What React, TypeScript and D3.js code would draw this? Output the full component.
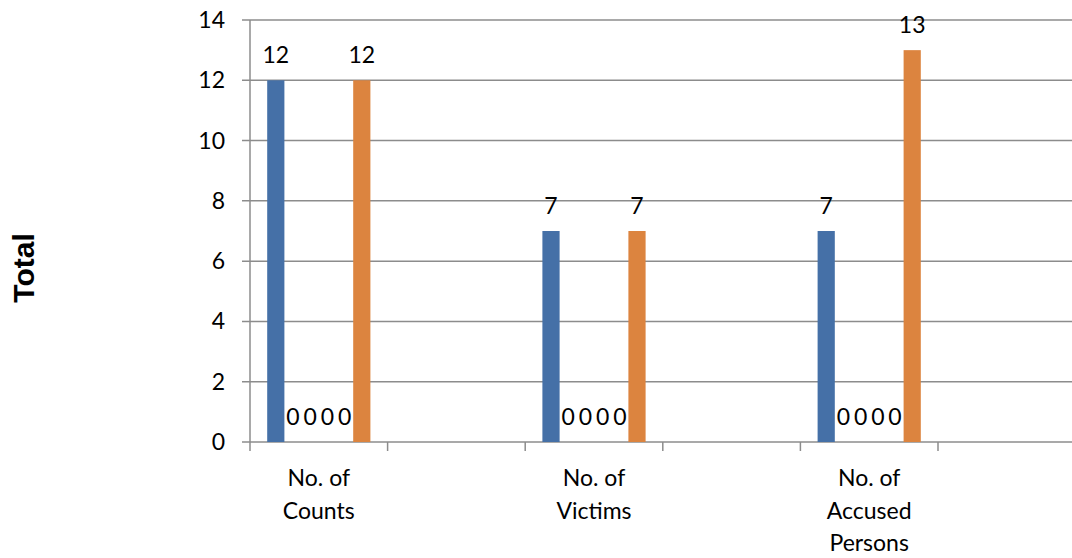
import React from "react";
import * as d3 from "d3";

const categories = ["No. of Counts", "", "No. of Victims", "", "No. of Accused Persons", ""];
const categoryLines = [["No. of", "Counts"], [], ["No. of", "Victims"], [], ["No. of", "Accused", "Persons"], []];
const seriesNames = ["S1", "S2", "S3", "S4", "S5", "S6"];
const series1 = [12, null, 7, null, 7, null];
const series2 = [0, null, 0, null, 0, null];
const series3 = [0, null, 0, null, 0, null];
const series4 = [0, null, 0, null, 0, null];
const series5 = [0, null, 0, null, 0, null];
const series6 = [12, null, 7, null, 13, null];
const yTicks = [0, 2, 4, 6, 8, 10, 12, 14];
const seriesColors = ["#4570A7", "#4F81BD", "#C0504D", "#9BBB59", "#8064A2", "#DC843F"];

const W = 1072;
const H = 558;
const FONT = "Lato, 'Open Sans', sans-serif";
const FS = 23;

export default function App() {
  const allSeries = [series1, series2, series3, series4, series5, series6];
  const x = d3.scaleBand<number>().domain(d3.range(categories.length)).range([250, 1075.6]).padding(0);
  const bw = x.bandwidth();
  const barW = bw / 8;
  const inner = d3.scaleBand<number>().domain(d3.range(allSeries.length)).range([barW, bw - barW]).padding(0);
  const y = d3.scaleLinear().domain([0, 14]).range([442, 20]);
  const grid = "#8c8c8c";
  const ticksX = d3.range(categories.length + 1).map((i) => 250 + i * bw);

  return (
    <svg width={W} height={H} style={{ position: "absolute", left: 0, top: 0, background: "#fff" }} fontFamily={FONT}>
      {yTicks.map((t) => (
        <line key={"g" + t} x1={242} x2={W} y1={y(t)} y2={y(t)} stroke={grid} strokeWidth={1.5} />
      ))}
      <line x1={250} x2={250} y1={y(14)} y2={y(0)} stroke={grid} strokeWidth={1.5} />
      {yTicks.map((t) => (
        <text key={"yl" + t} x={225} y={y(t)} dy="0.35em" textAnchor="end" fontSize={FS} fill="#000">
          {t}
        </text>
      ))}
      {ticksX.map((tx, i) => (
        <line key={"xt" + i} x1={tx} x2={tx} y1={y(0)} y2={y(0) + 9} stroke={grid} strokeWidth={1.5} />
      ))}
      {allSeries.map((s, si) =>
        s.map((v, ci) =>
          v === null || v === 0 ? null : (
            <rect
              key={`b${si}-${ci}`}
              x={(x(ci) as number) + (inner(si) as number)}
              y={y(v)}
              width={inner.bandwidth()}
              height={y(0) - y(v)}
              fill={seriesColors[si]}
            />
          )
        )
      )}
      {allSeries.map((s, si) =>
        s.map((v, ci) =>
          v === null ? null : (
            <text
              key={`l${si}-${ci}`}
              x={(x(ci) as number) + (inner(si) as number) + inner.bandwidth() / 2}
              y={y(v) - 17}
              textAnchor="middle"
              fontSize={FS}
              fill="#000"
            >
              {v}
            </text>
          )
        )
      )}
      {categoryLines.map((lines, ci) =>
        lines.map((ln, li) => (
          <text
            key={`c${ci}-${li}`}
            x={(x(ci) as number) + bw / 2}
            y={478 + li * 32.5}
            dy="0.35em"
            textAnchor="middle"
            fontSize={FS}
            fill="#000"
          >
            {ln}
          </text>
        ))
      )}
      <text
        transform="translate(23,268) rotate(-90)"
        textAnchor="middle"
        dy="0.35em"
        fontSize={30}
        fontWeight="bold"
        fontFamily="'Liberation Sans', Arial, sans-serif"
        fill="#000"
      >
        Total
      </text>
    </svg>
  );
}
